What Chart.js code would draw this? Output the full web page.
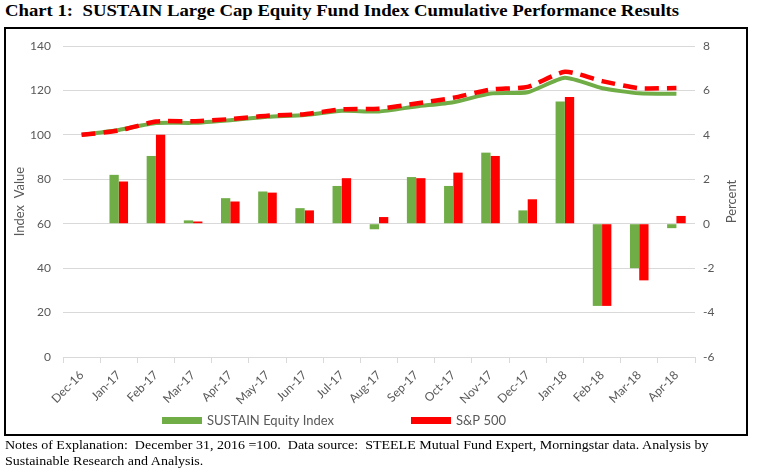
<!DOCTYPE html>
<html>
<head>
<meta charset="utf-8">
<script src="https://cdn.jsdelivr.net/npm/chart.js@4"></script>
<style>
  body { margin: 0; background: #fff; width: 760px; height: 469px; overflow: hidden; position: relative; }
  #title { position: absolute; left: 5px; top: 2px; font: bold 16px "Liberation Serif", "Times New Roman", serif; white-space: pre; color: #000; transform: scaleX(1.17); transform-origin: left top; }
  #frame { position: absolute; left: 4px; top: 27px; width: 744px; height: 409px; box-sizing: border-box; border: 2px solid #000; }
  #notes { position: absolute; left: 5px; top: 437px; font: 13px/16px "Liberation Serif", "Times New Roman", serif; white-space: pre; color: #000; transform: scaleX(1.077); transform-origin: left top; }
  #chart { position: absolute; left: 0; top: 0; }
</style>
</head>
<body>
<div id="title">Chart 1:  SUSTAIN Large Cap Equity Fund Index Cumulative Performance Results</div>
<div id="frame"></div>
<canvas id="chart" width="760" height="469"></canvas>
<div id="notes">Notes of Explanation:  December 31, 2016 =100.  Data source:  STEELE Mutual Fund Expert, Morningstar data. Analysis by
Sustainable Research and Analysis.</div>
<script>
// chart data
var months = ['Dec-16', 'Jan-17', 'Feb-17', 'Mar-17', 'Apr-17', 'May-17', 'Jun-17', 'Jul-17', 'Aug-17',
  'Sep-17', 'Oct-17', 'Nov-17', 'Dec-17', 'Jan-18', 'Feb-18', 'Mar-18', 'Apr-18'];

// monthly returns, percent (right axis)
var sustainReturn = [null, 2.2, 3.05, 0.15, 1.15, 1.45, 0.7, 1.7, -0.25, 2.1, 1.7, 3.2, 0.6, 5.5, -3.7, -2.0, -0.2];
var sp500Return = [null, 1.9, 4.0, 0.1, 1.0, 1.4, 0.6, 2.05, 0.3, 2.05, 2.3, 3.05, 1.1, 5.7, -3.7, -2.55, 0.35];

// cumulative index values, Dec 2016 = 100 (left axis)
var sustainIndex = [100, 102.2, 105.3, 105.4, 106.6, 108.1, 108.9, 110.8, 110.5, 112.8, 114.7, 118.6, 119.2, 125.7, 121.0, 118.7, 118.5];
var sp500Index = [100, 101.9, 106.0, 106.1, 107.1, 108.6, 109.3, 111.5, 111.8, 114.1, 116.7, 120.4, 121.6, 128.4, 124.2, 121.0, 121.1];

var indexTicks = { min: 0, max: 140, step: 20 };
var percentTicks = { min: -6, max: 8, step: 2 };

var GREEN = '#70AD47';
var RED = '#FF0000';
var GREY = '#595959';

Chart.defaults.font.family = 'Lato';
Chart.defaults.color = GREY;

// legend for the two bar series and the right axis title (reads bottom to top)
var extras = {
  id: 'extras',
  afterDraw: function (chart) {
    var ctx = chart.ctx;
    var area = chart.chartArea;
    ctx.save();
    ctx.font = '13px Lato';
    ctx.fillStyle = GREY;
    ctx.textBaseline = 'middle';
    [{ i: 2, x: 162 }, { i: 3, x: 411 }].forEach(function (item) {
      var ds = chart.data.datasets[item.i];
      ctx.fillStyle = ds.backgroundColor;
      ctx.fillRect(item.x, 417, 40, 7);
      ctx.fillStyle = GREY;
      ctx.fillText(ds.label, item.x + 45, 421);
    });
    ctx.translate(732, (area.top + area.bottom) / 2);
    ctx.rotate(-Math.PI / 2);
    ctx.textAlign = 'center';
    ctx.fillText('Percent', 0, 0);
    ctx.restore();
  }
};

new Chart(document.getElementById('chart').getContext('2d'), {
  data: {
    labels: months,
    datasets: [
      {
        type: 'line',
        label: 'S&P 500 Index',
        data: sp500Index,
        yAxisID: 'y',
        borderColor: RED,
        borderWidth: 4.5,
        borderDash: [14, 8],
        pointRadius: 0,
        tension: 0.2,
        fill: false,
      },
      {
        type: 'line',
        label: 'SUSTAIN Index',
        data: sustainIndex,
        yAxisID: 'y',
        borderColor: GREEN,
        borderWidth: 4,
        pointRadius: 0,
        tension: 0.2,
        fill: false,
      },
      {
        type: 'bar',
        label: 'SUSTAIN Equity Index',
        data: sustainReturn,
        yAxisID: 'y1',
        backgroundColor: GREEN,
        barPercentage: 1,
        categoryPercentage: 0.5,
      },
      {
        type: 'bar',
        label: 'S&P 500',
        data: sp500Return,
        yAxisID: 'y1',
        backgroundColor: RED,
        barPercentage: 1,
        categoryPercentage: 0.5,
      },
    ],
  },
  options: {
    responsive: false,
    animation: false,
    layout: { padding: { left: 8, right: 0, top: 46, bottom: 32 } },
    plugins: {
      legend: { display: false },
      tooltip: { enabled: false },
    },
    scales: {
      x: {
        grid: { offset: true, drawOnChartArea: false, drawTicks: true, tickLength: 6, color: '#d9d9d9' },
        border: { color: '#d9d9d9' },
        ticks: { font: { size: 12 }, minRotation: 45, maxRotation: 45, autoSkip: false, padding: 5 },
        afterFit: function (scale) { scale.height = 80; },
      },
      y: {
        position: 'left',
        min: indexTicks.min,
        max: indexTicks.max,
        ticks: { stepSize: indexTicks.step, font: { size: 12 }, padding: 12 },
        grid: { color: '#d9d9d9', drawTicks: false },
        border: { display: false },
        title: { display: true, text: 'Index  Value', font: { size: 13 }, padding: { top: 4, bottom: 0 } },
        afterFit: function (scale) { scale.width = 55; },
      },
      y1: {
        position: 'right',
        min: percentTicks.min,
        max: percentTicks.max,
        ticks: { stepSize: percentTicks.step, font: { size: 12 }, padding: 8 },
        grid: { drawOnChartArea: false, drawTicks: false },
        border: { display: false },
        afterFit: function (scale) { scale.width = 65; },
      },
    },
  },
  plugins: [extras],
});
</script>
</body>
</html>
